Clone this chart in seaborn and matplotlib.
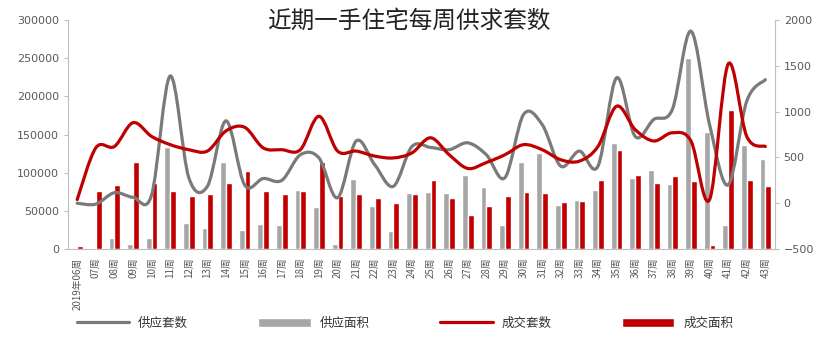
import numpy as np
import pandas as pd
import matplotlib
matplotlib.use("Agg")
import matplotlib.pyplot as plt
import matplotlib.ticker as ticker
import seaborn as sns
from matplotlib.path import Path
from matplotlib.patches import PathPatch, Patch
from matplotlib.lines import Line2D

# data

weeks = ["2019年06周"] + ["%02d周" % w for w in range(7, 44)]

# left axis: bars (area)
supply_area = [0, 0, 15000, 7000, 14000, 134000, 34000, 27000, 114000, 25000,
               33000, 32000, 78000, 55000, 7000, 92000, 57000, 24000, 74000, 75000,
               73000, 97000, 81000, 31000, 114000, 126000, 58000, 64000, 77000, 139000,
               93000, 103000, 85000, 251000, 153000, 31000, 136000, 118000]
deal_area = [4000, 76000, 84000, 114000, 87000, 76000, 70000, 72000, 87000, 102000,
             76000, 72000, 76000, 114000, 69000, 72000, 67000, 60000, 72000, 90000,
             67000, 45000, 57000, 69000, 75000, 73000, 62000, 63000, 90000, 130000,
             97000, 86000, 96000, 89000, 5000, 182000, 90000, 82000]

# right axis: smoothed lines (units)
supply_units = [0, -10, 115, 65, 90, 1390, 280, 185, 900, 200,
                270, 250, 530, 495, 60, 680, 420, 185, 620, 610,
                585, 660, 530, 280, 970, 860, 405, 570, 405, 1370,
                730, 915, 1025, 1880, 860, 200, 1115, 1350]
deal_units = [40, 605, 620, 880, 730, 640, 585, 570, 790, 830,
              605, 585, 585, 950, 570, 570, 515, 495, 550, 715,
              530, 380, 445, 530, 640, 585, 475, 460, 620, 1060,
              805, 680, 770, 680, 40, 1520, 730, 620]

gray_line = "#7a7a7a"
gray_bar = "#a6a6a6"
red = "#c00000"
txt = "#595959"

sns.set_style("white")
plt.rcParams['font.family'] = ['Noto Sans CJK SC', 'DejaVu Sans']


def smooth_path(xs, ys):
    # excel style smoothed line: cubic bezier through every point
    n = len(xs)
    verts = [(xs[0], ys[0])]
    codes = [Path.MOVETO]
    for i in range(n - 1):
        a = i - 1 if i > 0 else i
        b = i + 2 if i + 2 < n else i + 1
        c1 = (xs[i] + (xs[i + 1] - xs[a]) / 6, ys[i] + (ys[i + 1] - ys[a]) / 6)
        c2 = (xs[i + 1] - (xs[b] - xs[i]) / 6, ys[i + 1] - (ys[b] - ys[i]) / 6)
        verts += [c1, c2, (xs[i + 1], ys[i + 1])]
        codes += [Path.CURVE4] * 3
    return Path(verts, codes)


df = pd.DataFrame({
    "week": weeks * 2,
    "kind": ["供应面积"] * len(weeks) + ["成交面积"] * len(weeks),
    "value": supply_area + deal_area,
})

fig = plt.figure(figsize=(8.18, 3.57), dpi=100)
ax = fig.add_axes([0.083, 0.3025, 0.864, 0.641])

sns.barplot(data=df, x="week", y="value", hue="kind", palette=[gray_bar, red],
            width=0.62, saturation=1, legend=False, ax=ax)
ax.set_ylim(0, 300000)
ax.set_xlim(-0.5, len(weeks) - 0.5)
ax.yaxis.set_major_locator(ticker.MultipleLocator(50000))
ax.set_xlabel("")
ax.set_ylabel("")

ax2 = ax.twinx()
ax2.set_ylim(-500, 2000)
ax2.yaxis.set_major_locator(ticker.MultipleLocator(500))
xs = np.arange(len(weeks))
ax2.add_patch(PathPatch(smooth_path(xs, supply_units), facecolor="none",
                        edgecolor=gray_line, lw=2.3, capstyle="round"))
ax2.add_patch(PathPatch(smooth_path(xs, deal_units), facecolor="none",
                        edgecolor=red, lw=2.3, capstyle="round"))

for a in (ax, ax2):
    for s in a.spines.values():
        s.set_visible(False)
    a.tick_params(axis="y", colors="#bfbfbf", labelcolor=txt, labelsize=8,
                  length=3, width=0.8)
ax.spines["left"].set_visible(True)
ax.spines["bottom"].set_visible(True)
ax2.spines["right"].set_visible(True)
ax.spines["left"].set_color("#bfbfbf")
ax.spines["bottom"].set_color("#bfbfbf")
ax2.spines["right"].set_color("#bfbfbf")
for lab in ax.get_yticklabels() + ax2.get_yticklabels():
    lab.set_family("DejaVu Sans")

ax.set_xticks(xs)
ax.set_xticklabels(weeks, rotation=90, fontsize=7, color=txt)
ax.tick_params(axis="x", which="major", length=0, pad=6)
ax.xaxis.set_minor_locator(ticker.FixedLocator(np.arange(-0.5, len(weeks), 1)))
ax.tick_params(axis="x", which="minor", length=4, color="#bfbfbf", width=0.8)

fig.text(0.5, 0.941, "近期一手住宅每周供求套数", ha="center", va="center",
         fontsize=17, fontweight="medium", color="#222222")

handles = [Line2D([], [], color=gray_line, lw=2.3),
           Patch(facecolor=gray_bar),
           Line2D([], [], color=red, lw=2.3),
           Patch(facecolor=red)]
labels = ["供应套数", "供应面积", "成交套数", "成交面积"]
fig.legend(handles, labels, ncol=4, loc="lower left", mode="expand",
           bbox_to_anchor=(0.08, 0.045, 0.83, 0.08), frameon=False,
           handlelength=4.2, handletextpad=0.7, fontsize=9,
           labelcolor="#333333")

plt.savefig("out.png", dpi=100)
